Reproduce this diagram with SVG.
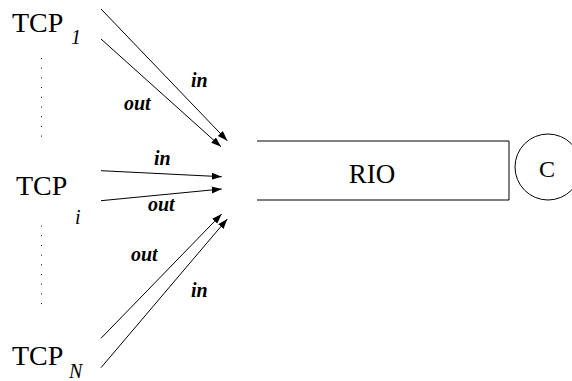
<svg xmlns="http://www.w3.org/2000/svg" width="572" height="381" viewBox="0 0 572 381">
<style>
.big{font-size:28px}
.sub{font-size:20px;font-style:italic}
.io{font-size:20px;font-style:italic;font-weight:bold}
.ln{stroke:#000;stroke-width:1;fill:none}
.dot{stroke:#000;stroke-width:1;stroke-dasharray:1 8.7;fill:none}
</style>
<defs>
<marker id="ah" markerUnits="userSpaceOnUse" markerWidth="11" markerHeight="8" refX="10" refY="3.5" orient="auto">
<path d="M0,0 L10,3.5 L0,7 z" fill="#000"/>
</marker>
</defs>
<rect width="572" height="381" fill="#fff"/>
<g font-family="Liberation Serif, DejaVu Serif, serif" fill="#000">
<g id="tcp1"><text class="big" x="12" y="32">TCP</text><text class="sub" x="71" y="44">1</text></g>
<g id="tcpi"><text class="big" x="16" y="195">TCP</text><text class="sub" x="75" y="224">i</text></g>
<g id="tcpn"><text class="big" x="12" y="365">TCP</text><text class="sub" x="69" y="378">N</text></g>
<g id="rio"><path class="ln" d="M257,141 H509 V200 H257"/><text font-size="27" x="372" y="183" text-anchor="middle">RIO</text></g>
<g id="c"><circle class="ln" cx="548" cy="167" r="33"/><text font-size="24" x="547" y="177" text-anchor="middle">C</text></g>
<g id="connectors">
<line class="ln" x1="101" y1="9" x2="227.3" y2="140.7" marker-end="url(#ah)"/>
<line class="ln" x1="101" y1="39" x2="221" y2="146.7" marker-end="url(#ah)"/>
<line class="ln" x1="101" y1="170.7" x2="221.7" y2="176.7" marker-end="url(#ah)"/>
<line class="ln" x1="101" y1="200.7" x2="221.7" y2="189" marker-end="url(#ah)"/>
<line class="ln" x1="101" y1="338.3" x2="221.7" y2="214" marker-end="url(#ah)"/>
<line class="ln" x1="101" y1="367.7" x2="227.3" y2="219" marker-end="url(#ah)"/>
<text class="io" x="191" y="87">in</text>
<text class="io" x="124" y="110">out</text>
<text class="io" x="154" y="165">in</text>
<text class="io" x="148" y="211">out</text>
<text class="io" x="131" y="261">out</text>
<text class="io" x="191" y="297">in</text>
</g>
</g>
<g id="dots"><line class="dot" x1="41.5" y1="58" x2="41.5" y2="137"/><line class="dot" x1="41.5" y1="225.5" x2="41.5" y2="305"/></g>
</svg>
